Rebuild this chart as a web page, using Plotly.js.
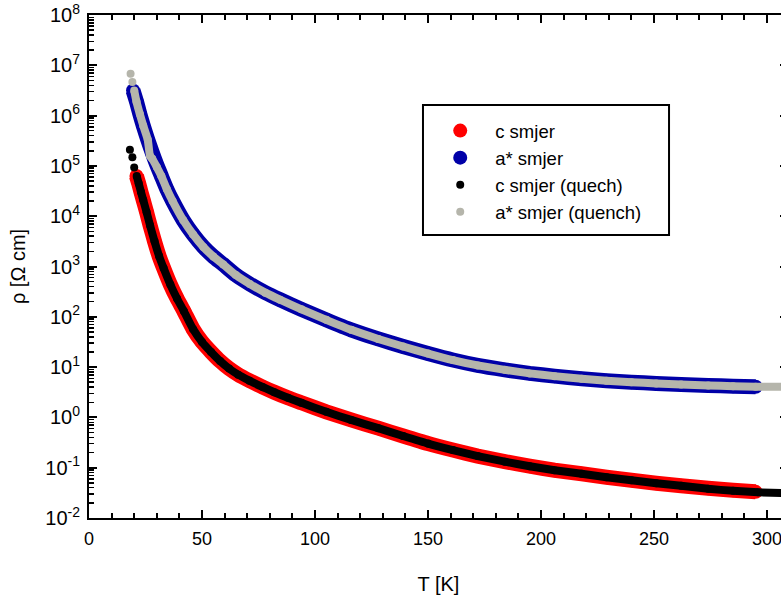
<!DOCTYPE html>
<html>
<head>
<meta charset="utf-8">
<script src="https://cdn.plot.ly/plotly-3.0.1.min.js"></script>
<style>
html,body{margin:0;padding:0;overflow:hidden;background:#fff;}
#chart{width:790px;height:595px;}
</style>
</head>
<body>
<div id="chart"></div>
<script>
// ---- data (T in K, rho in Ohm cm) ----
var cT = [21, 22, 23, 24, 25.5, 27, 29, 31, 33, 36, 39, 42, 46, 50, 54, 58, 62, 66, 71, 77, 82, 88, 94, 105, 116, 128, 139, 150, 161, 172, 184, 195, 206, 218, 229, 240, 251, 262, 274, 285, 295];
var cRho = [63100, 44700, 30200, 20900, 12000, 6610, 3160, 1620, 933, 437, 229, 129, 57.5, 31.6, 20.0, 13.2, 9.33, 7.08, 5.37, 3.98, 3.16, 2.45, 1.95, 1.29, 0.891, 0.610, 0.427, 0.302, 0.224, 0.170, 0.132, 0.107, 0.0891, 0.0759, 0.0646, 0.0562, 0.0490, 0.0437, 0.0389, 0.0355, 0.0331];

var aT = [19.5, 21, 22.5, 24, 26, 28, 30, 32, 34.4, 37, 41.7, 46, 50.6, 55, 59.4, 65, 71.2, 78, 84.5, 94, 105, 116, 128, 139, 150, 161, 172, 184, 195, 206, 218, 229, 240, 251, 262, 274, 285, 295];
var aRho = [3.16e6, 1.91e6, 1.07e6, 6.31e5, 3.31e5, 1.82e5, 1.05e5, 6.31e4, 3.47e4, 2.00e4, 8320, 4370, 2450, 1580, 1100, 676, 447, 302, 219, 141, 87.1, 55.0, 36.3, 25.7, 18.6, 13.8, 10.8, 8.81, 7.50, 6.61, 5.89, 5.37, 5.01, 4.73, 4.52, 4.32, 4.17, 4.07];

var cqT = [18.1, 19.2, 20, 21.1, 22, 23, 24, 25.5, 27, 29, 31, 33, 36, 39, 42, 46, 50, 54, 58, 62, 66, 71, 77, 82, 88, 94, 105, 116, 128, 139, 150, 161, 172, 184, 195, 206, 218, 229, 240, 251, 262, 274, 285, 296, 310];
var cqRho = [2.09e5, 1.48e5, 9.33e4, 6.31e4, 44700, 30200, 20900, 12000, 6610, 3160, 1620, 933, 437, 229, 129, 57.5, 31.6, 20.0, 13.2, 9.33, 7.08, 5.37, 3.98, 3.16, 2.45, 1.95, 1.29, 0.891, 0.610, 0.427, 0.302, 0.224, 0.170, 0.132, 0.107, 0.0891, 0.0759, 0.0646, 0.0562, 0.0490, 0.0437, 0.0380, 0.0347, 0.0324, 0.0309];

var aqT = [18.4, 19.2, 20, 21, 22.5, 24, 26, 27, 28, 30, 32, 34.4, 37, 41.7, 46, 50.6, 55, 59.4, 65, 71.2, 78, 84.5, 94, 105, 116, 128, 139, 150, 161, 172, 184, 195, 206, 218, 229, 240, 251, 262, 274, 285, 295, 310];
var aqRho = [6.76e6, 4.68e6, 3.16e6, 1.91e6, 1.07e6, 6.31e5, 3.31e5, 1.58e5, 1.38e5, 9.5e4, 6.31e4, 3.47e4, 2.00e4, 8320, 4370, 2450, 1580, 1100, 676, 447, 302, 219, 141, 87.1, 55.0, 36.3, 25.7, 18.6, 13.8, 10.8, 8.81, 7.50, 6.61, 5.89, 5.37, 5.01, 4.73, 4.52, 4.32, 4.17, 4.07, 4.07];

var seriesNames = ['c smjer', 'a* smjer', 'c smjer (quech)', 'a* smjer (quench)'];
var yTickVals = [1e-2, 1e-1, 1e0, 1e1, 1e2, 1e3, 1e4, 1e5, 1e6, 1e7, 1e8];
var yTickText = ['10<sup>-2</sup>', '10<sup>-1</sup>', '10<sup>0</sup>', '10<sup>1</sup>', '10<sup>2</sup>', '10<sup>3</sup>',
                 '10<sup>4</sup>', '10<sup>5</sup>', '10<sup>6</sup>', '10<sup>7</sup>', '10<sup>8</sup>'];

// ---- styling ----
var RED = '#ff0000', BLUE = '#0000a8', BLACK = '#000000', GRAY = '#b5b5ab';
var FONT = 'Liberation Sans, Arial, sans-serif';

// the first few quench readings are isolated dots, the rest form a continuous band
var cqLoose = 3, aqLoose = 2;

function band(x, y, color, width) {
  return {x: x, y: y, mode: 'lines', type: 'scatter', showlegend: false, hoverinfo: 'skip',
          line: {color: color, width: width, shape: 'spline', smoothing: 0.5}};
}
function pts(x, y, color, size, name) {
  return {x: x, y: y, mode: 'markers', type: 'scatter', name: name,
          marker: {color: color, size: size, line: {width: 0}}};
}

var traces = [
  band(cT, cRho, RED, 15), pts(cT, cRho, RED, 14, seriesNames[0]),
  band(aT, aRho, BLUE, 15), pts(aT, aRho, BLUE, 14, seriesNames[1]),
  band(cqT.slice(cqLoose), cqRho.slice(cqLoose), BLACK, 8), pts(cqT, cqRho, BLACK, 8, seriesNames[2]),
  band(aqT.slice(aqLoose), aqRho.slice(aqLoose), GRAY, 8), pts(aqT, aqRho, GRAY, 8, seriesNames[3])
];

// minor tick positions for the log axis
var yMinor = [];
for (var e = -2; e < 8; e++) {
  for (var m = 2; m <= 9; m++) yMinor.push(m * Math.pow(10, e));
}

var layout = {
  width: 790, height: 595,
  margin: {l: 89, r: 2, t: 15, b: 77},
  paper_bgcolor: '#ffffff', plot_bgcolor: '#ffffff',
  font: {family: FONT, color: '#000'},
  showlegend: true,
  xaxis: {
    range: [0, 309.3], tickmode: 'linear', tick0: 0, dtick: 50,
    ticks: 'inside', ticklen: 8, tickwidth: 2, tickcolor: '#000',
    showline: true, linewidth: 2, linecolor: '#000', mirror: 'ticks',
    showgrid: false, zeroline: false,
    tickfont: {family: FONT, size: 18, color: '#000'},
    ticklabelstandoff: 3,
    minor: {dtick: 10, ticks: 'inside', ticklen: 5, tickwidth: 2, tickcolor: '#000', showgrid: false},
    title: {text: 'T [K]', font: {family: FONT, size: 20, color: '#000'}, standoff: 29}
  },
  yaxis: {
    type: 'log', range: [-2, 8], tickmode: 'array', tickvals: yTickVals, ticktext: yTickText,
    ticks: 'inside', ticklen: 8, tickwidth: 2, tickcolor: '#000',
    showline: true, linewidth: 2, linecolor: '#000', mirror: 'ticks',
    showgrid: false, zeroline: false,
    tickfont: {family: FONT, size: 20, color: '#000'},
    ticklabelstandoff: 3,
    minor: {tickvals: yMinor, ticks: 'inside', ticklen: 5, tickwidth: 1.5, tickcolor: '#000', showgrid: false},
    title: {text: 'ρ [Ω cm]', font: {family: FONT, size: 20, color: '#000'}, standoff: 14}
  },
  legend: {
    x: 0.481, y: 0.807, xanchor: 'left', yanchor: 'top',
    bgcolor: 'rgba(0,0,0,0)', borderwidth: 0,
    itemwidth: 60, itemsizing: 'trace',
    font: {family: FONT, size: 18.5, color: '#000'}
  },
  shapes: [{
    type: 'rect', xref: 'paper', yref: 'paper',
    x0: 0.4778, x1: 0.8298, y0: 0.5626, y1: 0.8211,
    line: {color: '#000', width: 2}, fillcolor: 'rgba(0,0,0,0)'
  }]
};

Plotly.newPlot('chart', traces, layout, {displayModeBar: false, staticPlot: true});
</script>
</body>
</html>
